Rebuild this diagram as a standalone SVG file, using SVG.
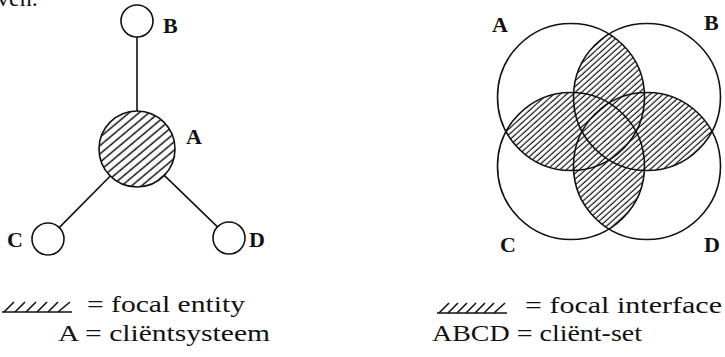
<svg xmlns="http://www.w3.org/2000/svg" width="725" height="357" viewBox="0 0 725 357">
<style>
.ln{fill:none;stroke:#111;stroke-width:1.6}
.lbl{font-family:"Liberation Serif","Times New Roman",serif;font-size:22px;font-weight:bold;fill:#111}
.txt{font-family:"Liberation Serif","Times New Roman",serif;font-size:24px;fill:#111}
</style>
<defs>
<pattern id="hatchL" patternUnits="userSpaceOnUse" width="10" height="6.4" patternTransform="rotate(-40)">
<line x1="0" y1="3" x2="10" y2="3" stroke="#111" stroke-width="1.5"/>
</pattern>
<pattern id="hatchR" patternUnits="userSpaceOnUse" width="10" height="4.3" patternTransform="rotate(-42)">
<line x1="0" y1="2" x2="10" y2="2" stroke="#111" stroke-width="1.2"/>
</pattern>
<clipPath id="cA"><circle cx="571" cy="97" r="73.5"/></clipPath>
<clipPath id="cB"><circle cx="647" cy="97" r="73.5"/></clipPath>
<clipPath id="cD"><circle cx="647" cy="166" r="73.5"/></clipPath>
<mask id="overlap" maskUnits="userSpaceOnUse" x="0" y="0" width="725" height="357">
<g clip-path="url(#cA)" fill="#fff"><circle cx="647" cy="97" r="73.5"/><circle cx="571" cy="166" r="73.5"/><circle cx="647" cy="166" r="73.5"/></g>
<g clip-path="url(#cD)" fill="#fff"><circle cx="647" cy="97" r="73.5"/><circle cx="571" cy="166" r="73.5"/></g>
<g clip-path="url(#cB)" fill="#fff"><circle cx="571" cy="166" r="73.5"/></g>
</mask>
</defs>
<rect width="725" height="357" fill="#fff"/>
<text class="txt" x="-3" y="6" font-size="22">ven.</text>

<!-- left diagram -->
<g id="connectors">
<line class="ln" x1="137" y1="37" x2="137" y2="111"/>
<line class="ln" x1="110.3" y1="176" x2="59.2" y2="227.6"/>
<line class="ln" x1="164.3" y1="175.4" x2="217.5" y2="226.9"/>
</g>
<g id="node-A">
<circle cx="137" cy="149" r="38" fill="url(#hatchL)"/>
<circle class="ln" cx="137" cy="149" r="38"/>
<text class="lbl" x="186" y="144">A</text>
</g>
<g id="node-B">
<circle class="ln" cx="137" cy="21" r="16" fill="#fff"/>
<text class="lbl" x="163" y="33">B</text>
</g>
<g id="node-C">
<circle class="ln" cx="48" cy="239" r="16"/>
<text class="lbl" x="7" y="247">C</text>
</g>
<g id="node-D">
<circle class="ln" cx="229" cy="238" r="16"/>
<text class="lbl" x="249" y="247">D</text>
</g>

<!-- left legend -->
<g id="legend-left">
<g class="ln" stroke-width="1.9">
<line x1="2" y1="312" x2="72" y2="312"/>
<line x1="4" y1="312" x2="14" y2="302"/>
<line x1="15" y1="312" x2="25" y2="302"/>
<line x1="26" y1="312" x2="36" y2="302"/>
<line x1="37" y1="312" x2="47" y2="302"/>
<line x1="48" y1="312" x2="58" y2="302"/>
<line x1="58" y1="312" x2="70" y2="302"/>
</g>
<text class="txt" x="87" y="312" textLength="158" lengthAdjust="spacingAndGlyphs">= focal entity</text>
<text class="txt" x="58" y="341" textLength="212" lengthAdjust="spacingAndGlyphs">A = cliëntsysteem</text>
</g>

<!-- right diagram -->
<g id="venn">
<rect x="490" y="15" width="240" height="230" fill="url(#hatchR)" mask="url(#overlap)"/>
<g id="set-A"><circle class="ln" cx="571" cy="97" r="73.5"/><text class="lbl" x="492" y="32">A</text></g>
<g id="set-B"><circle class="ln" cx="647" cy="97" r="73.5"/><text class="lbl" x="704" y="30">B</text></g>
<g id="set-C"><circle class="ln" cx="571" cy="166" r="73.5"/><text class="lbl" x="500" y="252">C</text></g>
<g id="set-D"><circle class="ln" cx="647" cy="166" r="73.5"/><text class="lbl" x="704" y="252">D</text></g>
</g>

<!-- right legend -->
<g id="legend-right">
<g class="ln" stroke-width="1.9">
<line x1="437" y1="313" x2="507" y2="313"/>
<line x1="439" y1="313" x2="449" y2="303"/>
<line x1="448" y1="313" x2="458" y2="303"/>
<line x1="457" y1="313" x2="467" y2="303"/>
<line x1="466" y1="313" x2="476" y2="303"/>
<line x1="475" y1="313" x2="485" y2="303"/>
<line x1="484" y1="313" x2="494" y2="303"/>
<line x1="494" y1="313" x2="505" y2="303"/>
</g>
<text class="txt" x="525" y="313" textLength="197" lengthAdjust="spacingAndGlyphs">= focal interface</text>
<text class="txt" x="432" y="341" textLength="210" lengthAdjust="spacingAndGlyphs">ABCD = cliënt-set</text>
</g>
</svg>
